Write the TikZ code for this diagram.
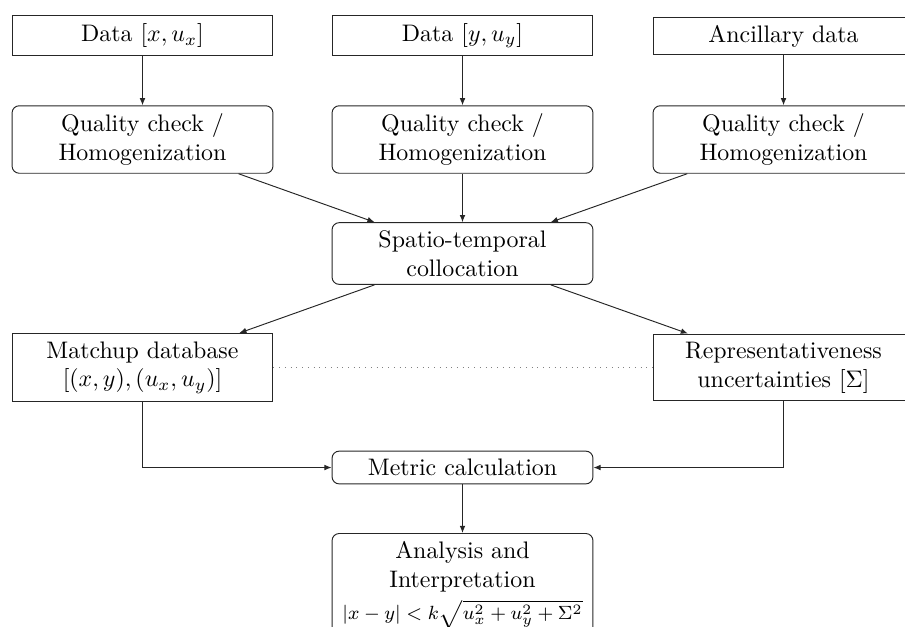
\documentclass[tikz,border=0pt]{standalone}
\usetikzlibrary{arrows.meta}
\begin{document}
\begin{tikzpicture}[x=0.4184pt,y=-0.4184pt,
  box/.style={draw=black!85, align=center, text width=102.5pt, inner sep=3.33pt},
  rbox/.style={box, rounded corners=3pt},
  arr/.style={draw=black!85, -{Latex[length=3pt,width=2.4pt]}}]
\clip (0,0) rectangle (905,626);
\node[box]  (d1) at (142.5,35.5) {Data $[x,u_x]$};
\node[box]  (d2) at (462.5,35.5) {Data $[y,u_y]$};
\node[box]  (d3) at (783.5,36)   {Ancillary data};
\node[rbox] (q1) at (142.5,139.5) {Quality check /\\Homogenization};
\node[rbox] (q2) at (462.5,139.5) {Quality check /\\Homogenization};
\node[rbox] (q3) at (783.5,139.5) {Quality check /\\Homogenization};
\node[rbox] (sp) at (462.5,253.5) {Spatio-temporal\\collocation};
\node[box]  (mu) at (142.5,367.5) {Matchup database\\$[(x,y),(u_x,u_y)]$};
\node[box]  (rp) at (783.5,367.5) {Representativeness\\uncertainties $[\Sigma]$};
\node[rbox] (me) at (462.5,467.5) {Metric calculation};
\node[rbox, anchor=north] (an) at (462.5,533) {Analysis and\\Interpretation\\[1.5pt]\makebox[0pt]{\footnotesize $|x-y|<k\sqrt{u_x^2+u_y^2+\Sigma^2}$}\\[20pt]};
\draw[arr] (d1) -- (q1);
\draw[arr] (d2) -- (q2);
\draw[arr] (d3) -- (q3);
\draw[arr] (q1) -- (sp);
\draw[arr] (q2) -- (sp);
\draw[arr] (q3) -- (sp);
\draw[arr] (sp) -- (mu);
\draw[arr] (sp) -- (rp);
\draw[dotted, gray] (mu) -- (rp);
\draw[arr] (mu.south) |- (me.west);
\draw[arr] (rp.south) |- (me.east);
\draw[arr] (me) -- (an);
\end{tikzpicture}
\end{document}
